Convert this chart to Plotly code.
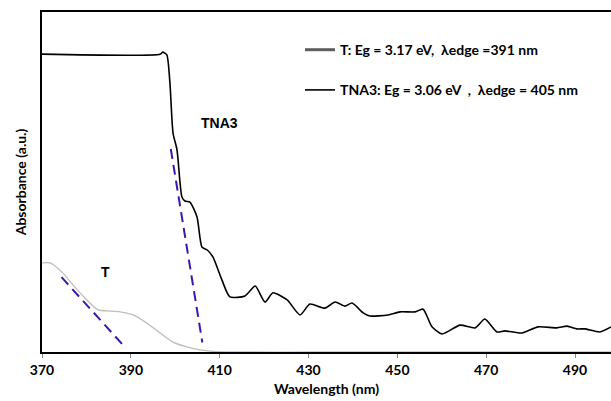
import plotly.graph_objects as go

# Absorbance spectra (a.u.) vs wavelength (nm)
wl_tna3 = [370, 396.6, 397.2, 398.1, 398.8, 399.5, 400.4, 401.5, 402.2, 403.3, 404.9,
           406.0, 407.2, 408.5, 410.5, 412.3, 415.7, 418.0, 420.2, 422.0, 425.2, 428.1,
           430.3, 433.7, 436.0, 438.2, 439.8, 442.3, 443.8, 447.9, 450.6, 454.0, 455.8,
           457.8, 460.1, 464.1, 467.5, 469.7, 472.4, 474.2, 478.1, 481.7, 485.9, 488.2,
           490.4, 492.2, 495.6, 498.1]
abs_tna3 = [0.876, 0.876, 0.882, 0.874, 0.791, 0.644, 0.594, 0.456, 0.444, 0.441, 0.397,
            0.309, 0.300, 0.279, 0.212, 0.162, 0.165, 0.194, 0.147, 0.174, 0.153, 0.109,
            0.141, 0.129, 0.147, 0.135, 0.144, 0.115, 0.106, 0.109, 0.118, 0.118, 0.126,
            0.074, 0.053, 0.079, 0.071, 0.097, 0.059, 0.062, 0.056, 0.074, 0.071, 0.076,
            0.068, 0.068, 0.059, 0.074]

wl_t = [370, 371.8, 374.5, 377.4, 380.1, 382.6, 384.6, 387.6, 390.5, 393.6, 396.6,
        399.5, 402.6, 405.6, 409.4, 415, 430, 450, 470, 490, 498.1]
abs_t = [0.262, 0.262, 0.235, 0.191, 0.153, 0.124, 0.121, 0.118, 0.109, 0.085, 0.056,
         0.029, 0.015, 0.006, 0.001, 0.0, 0.0, 0.0, 0.0, 0.0, 0.0]

# Tangent (band-edge) extrapolation lines
tan_t_x = [374.4, 388.9]
tan_t_y = [0.220, 0.011]
tan_tna3_x = [399.0, 406.1]
tan_tna3_y = [0.597, 0.028]

legend_t = "T: Eg = 3.17 eV,  λedge =391 nm"
legend_tna3 = "TNA3: Eg = 3.06 eV  ,  λedge = 405 nm"
x_ticks = [370, 390, 410, 430, 450, 470, 490]

edge_color = "#3d16b0"

fig = go.Figure()

# Spectra
fig.add_trace(go.Scatter(x=wl_t, y=abs_t, mode="lines", line=dict(color="#bdbdbd", width=1.3, shape="spline", smoothing=0.8),
                         showlegend=False, hoverinfo="skip"))
fig.add_trace(go.Scatter(x=wl_tna3, y=abs_tna3, mode="lines", line=dict(color="black", width=1.6, shape="spline", smoothing=0.6),
                         showlegend=False))

# Legend entries
fig.add_trace(go.Scatter(x=[None], y=[None], mode="lines", name=legend_t, legendgroup="t",
                         line=dict(color="#5e5e5e", width=3)))
fig.add_trace(go.Scatter(x=[None], y=[None], mode="lines", name=legend_tna3, legendgroup="tna3",
                         line=dict(color="black", width=1.6)))

# Tangent lines
fig.add_trace(go.Scatter(x=tan_t_x, y=tan_t_y, mode="lines", showlegend=False,
                         line=dict(color=edge_color, width=2, dash="10px,6px")))
fig.add_trace(go.Scatter(x=tan_tna3_x, y=tan_tna3_y, mode="lines", showlegend=False,
                         line=dict(color=edge_color, width=2, dash="10px,6px")))

fig.add_annotation(x=409.85, y=0.674, text="<b>TNA3</b>", showarrow=False,
                   font=dict(family="Liberation Sans", size=14, color="black"))
fig.add_annotation(x=384.4, y=0.235, text="<b>T</b>", showarrow=False,
                   font=dict(family="Liberation Sans", size=14, color="black"))

fig.update_layout(
    width=611, height=401,
    margin=dict(l=42, r=0, t=12, b=49),
    paper_bgcolor="white", plot_bgcolor="white",
    font=dict(family="Lato", color="black"),
    legend=dict(x=0.4534, y=0.935, xanchor="left", yanchor="top",
                font=dict(family="Lato", size=14, color="black", weight="bold"),
                tracegroupgap=19, bgcolor="rgba(0,0,0,0)", itemwidth=30),
    xaxis=dict(range=[370, 498.1], tickvals=x_ticks, ticktext=[str(v) for v in x_ticks],
               showgrid=False, zeroline=False, showline=True, linecolor="black", linewidth=2,
               mirror=True, ticks="outside", ticklen=4, tickcolor="#888", tickwidth=1,
               tickfont=dict(family="Lato", size=14, weight="bold", color="black"),
               title=dict(text="<b>Wavelength (nm)</b>", font=dict(family="Lato", size=14), standoff=7)),
    yaxis=dict(range=[0, 1], showgrid=False, zeroline=False, showticklabels=False, ticks="",
               showline=True, linecolor="black", linewidth=2,
               title=dict(text="<b>Absorbance (a.u.)</b>", font=dict(family="Lato", size=14), standoff=10)),
)

fig.write_html("out.html")
